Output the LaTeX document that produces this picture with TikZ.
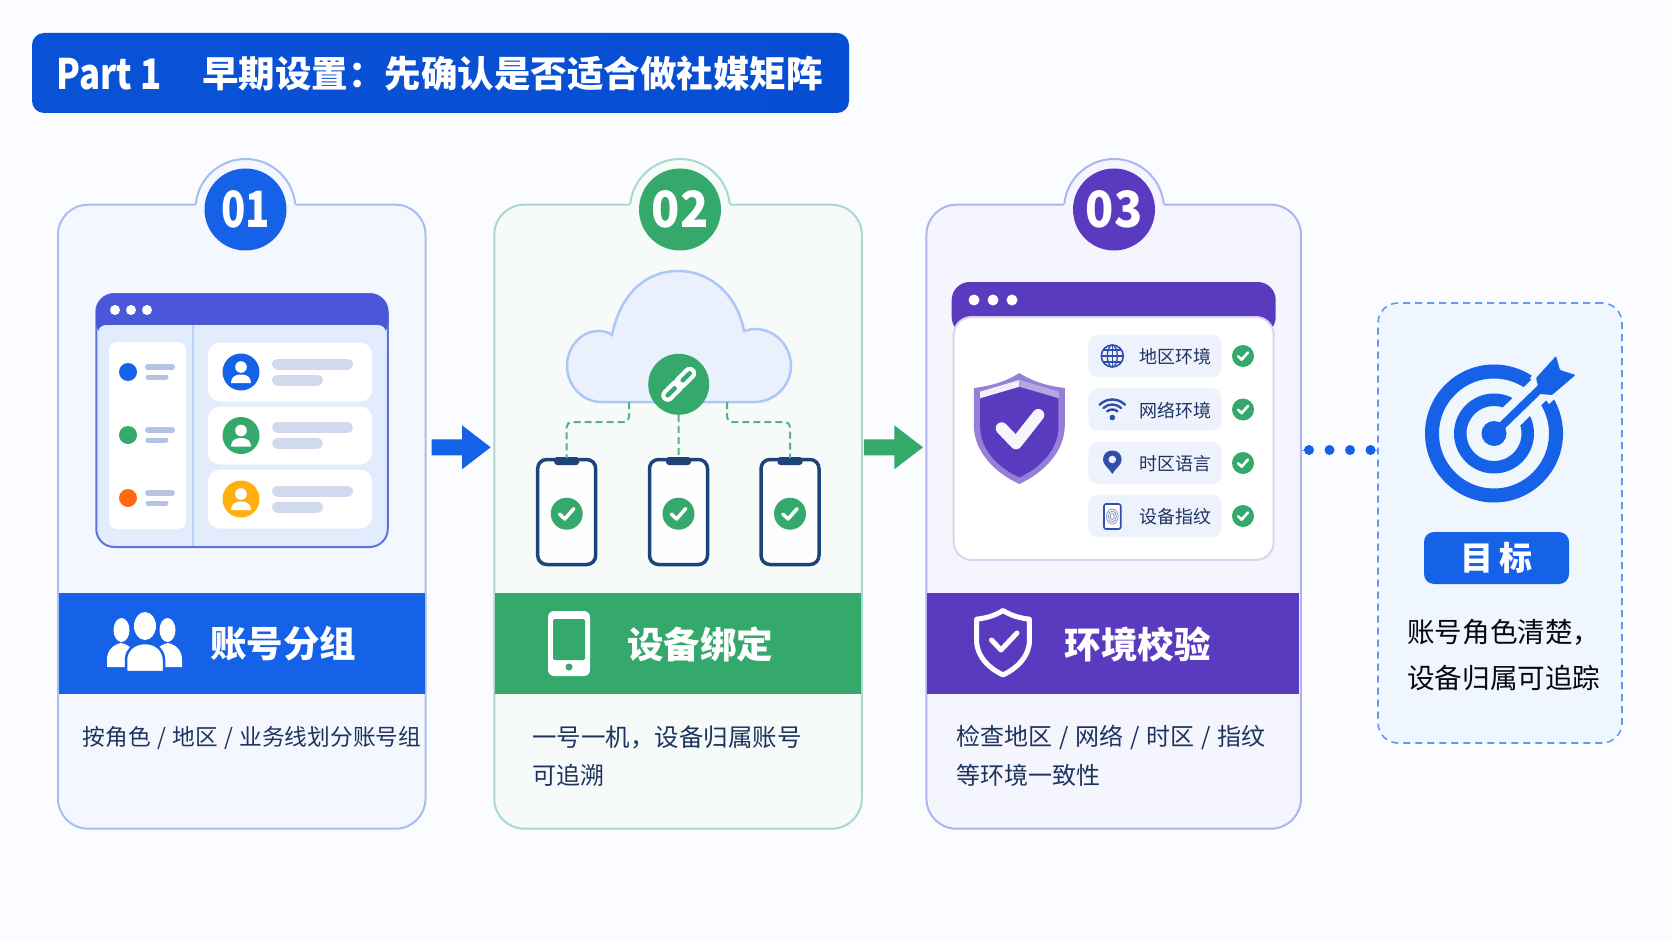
\documentclass[tikz,border=0pt]{standalone}
\usepackage{graphicx}
\usepackage{fontspec}
\setmainfont{Noto Sans CJK SC}
\usepackage{tikz}
\usetikzlibrary{shapes,arrows,positioning}

\definecolor{pagebg}{HTML}{FAFCFF}
\definecolor{cblue}{HTML}{1561E8}
\definecolor{cgreen}{HTML}{34A96B}
\definecolor{cpurple}{HTML}{5A3BC0}
\definecolor{corange}{HTML}{FF6A13}
\definecolor{cyellow}{HTML}{FFB010}
\definecolor{cnavy}{HTML}{1E4379}
\definecolor{cink}{HTML}{1E3460}
\definecolor{cbar}{HTML}{B5C3E2}
\definecolor{cbarsoft}{HTML}{D1D9EC}
\definecolor{ctarget}{HTML}{EFF6FE}
\definecolor{cpill}{HTML}{EEF2FC}
\definecolor{cicon}{HTML}{2F4FA8}
\definecolor{bannerl}{HTML}{0A52D5}
\definecolor{bannerm}{HTML}{0F60E6}
\definecolor{bannerr}{HTML}{074DD3}
\definecolor{headone}{HTML}{4A57D9}
\definecolor{edgeone}{HTML}{A7BFEF}
\definecolor{edgetwo}{HTML}{A8D9CC}
\definecolor{edgethree}{HTML}{AFB3EE}
\definecolor{fillone}{HTML}{F4F8FE}
\definecolor{filltwo}{HTML}{F6FBFA}
\definecolor{fillthree}{HTML}{F5F5FD}

\newcommand{\fsz}[1]{\fontsize{#1}{#1}\selectfont}
\newcommand{\slashgap}[1]{\hspace{#1}/\hspace{#1}}

\tikzstyle{card} = [draw, line width=2pt, rounded corners=30pt, minimum height=624pt, inner sep=0pt]
\tikzstyle{band} = [minimum height=101pt, inner sep=0pt]
\tikzstyle{badge} = [circle, minimum size=82pt, inner sep=0pt, text=white, font=\fsz{50}\bfseries]
\tikzstyle{bandtext} = [text=white, inner sep=0pt, font=\fsz{36.5}\bfseries]
\tikzstyle{desc} = [anchor=west, inner sep=0pt, font=\fsz{24}]
\tikzstyle{blockarrow} = [single arrow, anchor=tip, minimum height=59pt, single arrow head extend=14pt, single arrow tip angle=75, inner xsep=0pt, inner ysep=7.8pt]
\tikzstyle{bar} = [line width=#1, line cap=round]
\tikzstyle{okdot} = [circle, fill=cgreen, inner sep=0pt]
\tikzstyle{okline} = [white, line cap=round, line join=round]
\tikzstyle{whitebox} = [fill=white, inner sep=0pt]
\tikzstyle{envpill} = [fill=cpill, rounded corners=10pt, minimum width=133.4pt, minimum height=42.4pt, inner sep=0pt]
\tikzstyle{phone} = [draw=cnavy, fill=white!70!pagebg, line width=3.5pt, rounded corners=9pt, minimum width=58pt, minimum height=105pt, inner sep=0pt]
\tikzstyle{link} = [draw=cgreen!85!white, line width=2pt, dash pattern=on 7pt off 4pt, rounded corners=5pt]

\newcommand{\okmark}[4]{
  \node[okdot, minimum size=#3*2pt] (#1) at (#2) {};
  \draw[okline, line width=#4, shift={(#2)}, scale=#3] (-.45,.02) -- (-.12,.33) -- (.45,-.32);
}
\newcommand{\leftrow}[3]{
  \node[circle, fill=#3, minimum size=18pt, inner sep=0pt] (#1) at (128,#2) {};
  \draw[bar=6pt, cbar] (148,#2-5) -- (172,#2-5);
  \draw[bar=5pt, cbar] (148,#2+5) -- (166,#2+5);
}
\newcommand{\userrow}[4]{
  \node[whitebox, rounded corners=12pt, minimum width=164pt, minimum height=#4pt] (#1) at (290,#2) {};
  \node[circle, fill=#3, minimum size=37pt, inner sep=0pt] (#1a) at (241,#2) {};
  \fill[white] (241,#2-5) circle (5.8);
  \fill[white, shift={(241,#2)}] (-10,11) .. controls (-10,5) and (-6,2.5) .. (0,2.5) .. controls (6,2.5) and (10,5) .. (10,11) -- cycle;
  \draw[bar=11pt, cbarsoft] (277.5,#2-8) -- (347.5,#2-8);
  \draw[bar=11pt, cbarsoft] (277.5,#2+8) -- (317.5,#2+8);
}
\newcommand{\phonebox}[2]{
  \node[phone] (#1) at (#2,512) {};
  \fill[cnavy, rounded corners=3pt] (#2-12.5,457) -- (#2+12.5,457) -- (#2+12.5,465) -- (#2-12.5,465) -- cycle;
  \okmark{#1ok}{#2,513.7}{16}{3.5pt}
}
\newcommand{\envrow}[3]{
  \node[envpill] (#1) at (1155,#2) {};
  \node[inner sep=0pt, text=cink, font=\fsz{18}] (#1t) at (1175,#2+1) {#3};
  \okmark{#1ok}{1243,#2}{11}{2.6pt}
}
\newcommand{\shieldpath}{(0,-50) .. controls (-14,-41) and (-29,-37) .. (-45.5,-35) -- (-45.5,2) .. controls (-45.5,29) and (-24,50) .. (0,61) .. controls (24,50) and (45.5,29) .. (45.5,2) -- (45.5,-35) .. controls (29,-37) and (14,-41) .. (0,-50) -- cycle}

\begin{document}
\begin{tikzpicture}[x=1pt, y=-1pt, >=stealth]
    \useasboundingbox (0,0) rectangle (1672,941);
    \fill[pagebg] (0,0) rectangle (1672,941);

    % title
    \node[rounded corners=12pt, minimum width=817pt, minimum height=80pt, inner sep=0pt, left color=bannerl, middle color=bannerm, right color=bannerr] (banner) at (440.5,73) {};
    \node[anchor=west, inner sep=0pt, text=white, font=\fsz{42}\bfseries] (part) at (56.5,74) {\scalebox{0.83}[1]{Part 1}};
    \node[anchor=west, inner sep=0pt, text=white, font=\fsz{36.5}\bfseries] (title) at (202,74) {早期设置：先确认是否适合做社媒矩阵};

    % cards
    \node[card, draw=edgeone, fill=fillone, minimum width=367.5pt] (card1) at (241.75,516.7) {};
    \node[card, draw=edgetwo, fill=filltwo, minimum width=367.5pt] (card2) at (678,516.7) {};
    \node[card, draw=edgethree, fill=fillthree, minimum width=374.5pt] (card3) at (1113.7,516.7) {};

    \fill[fillone] (245.5,209) circle (50);
    \draw[edgeone, line width=2pt] (245.5,209) ++(185.7:50) arc (185.7:354.3:50);
    \fill[filltwo] (680,209) circle (50);
    \draw[edgetwo, line width=2pt] (680,209) ++(185.7:50) arc (185.7:354.3:50);
    \fill[fillthree] (1114,209) circle (50);
    \draw[edgethree, line width=2pt] (1114,209) ++(185.7:50) arc (185.7:354.3:50);

    \node[badge, fill=cblue] (badge1) at (245.5,209.5) {\scalebox{0.8}[1]{01}};
    \node[badge, fill=cgreen] (badge2) at (680,209.5) {\scalebox{0.93}[1]{02}};
    \node[badge, fill=cpurple] (badge3) at (1114,209.5) {\scalebox{0.93}[1]{03}};

    \node[band, fill=cblue, minimum width=366pt] (band1) at (242,643.5) {};
    \node[band, fill=cgreen, minimum width=366pt] (band2) at (678,643.5) {};
    \node[band, fill=cpurple, minimum width=372.5pt] (band3) at (1113,643.5) {};

    \node[bandtext] (name1) at (283,644) {账号分组};
    \node[bandtext] (name2) at (700,644) {设备绑定};
    \node[bandtext] (name3) at (1137.5,644) {环境校验};

    \node[desc, text=cink, font=\fsz{22.7}] (text1) at (82.5,737.5) {按角色\slashgap{6.4pt}地区\slashgap{6.4pt}业务线划分账号组};
    \node[desc, text=cink, font=\fsz{24.5}] (text2) at (532,737) {一号一机，设备归属账号};
    \node[desc, text=cink] (text2b) at (532,775) {可追溯};
    \node[desc, text=cink] (text3) at (956,737) {检查地区\slashgap{6.9pt}网络\slashgap{6.9pt}时区\slashgap{6.9pt}指纹};
    \node[desc, text=cink] (text3b) at (956,775) {等环境一致性};

    % band icons
    \fill[white] (107,667) -- (107,660) .. controls (107,651) and (112,645) .. (121,643) .. controls (130,645) and (136,651) .. (136,660) -- (136,667) -- cycle;
    \fill[white] (182,667) -- (182,660) .. controls (182,651) and (177,645) .. (168,643) .. controls (159,645) and (153,651) .. (153,660) -- (153,667) -- cycle;
    \fill[white] (121.5,630) ellipse (8 and 12);
    \fill[white] (167.5,630) ellipse (8 and 12);
    \draw[white, fill=white, postaction={draw=cblue, line width=2.5pt}] (126,672) -- (126,660) .. controls (126,650) and (134,643) .. (145,643) .. controls (156,643) and (164,650) .. (164,660) -- (164,672) -- cycle;
    \fill[cblue] (131,615) rectangle (159,641);
    \fill[white] (145,626) ellipse (11 and 14);

    \node[whitebox, rounded corners=6pt, minimum width=42pt, minimum height=65pt] (phoneicon) at (569,643.5) {};
    \node[fill=cgreen, rounded corners=1.5pt, minimum width=32pt, minimum height=41pt, inner sep=0pt] (phonescreen) at (569,639.5) {};
    \fill[cgreen] (569,667) circle (3.5);

    \draw[white, line width=5pt, line join=round, shift={(1003,639.5)}, scale=.58] \shieldpath;
    \draw[white, line width=5pt, line cap=round, line join=round] (991.5,640) -- (1001,650) -- (1017,633);

    % card 1 window
    \node[draw=cblue!55!cpurple!80!white, line width=2pt, fill=cblue!12!white, rounded corners=18pt, minimum width=291.5pt, minimum height=253pt, inner sep=0pt] (window1) at (242,420.5) {};
    \fill[headone, rounded corners=18pt] (96,340) -- (96,293.5) -- (388,293.5) -- (388,340) -- cycle;
    \fill[cblue!12!white, rounded corners=8pt] (98,325) rectangle (386,360);
    \fill[white] (115,310) circle (5);
    \fill[white] (131,310) circle (5);
    \fill[white] (147,310) circle (5);
    \draw[cblue!30!white, line width=2pt] (193,325) -- (193,546);
    \node[whitebox, rounded corners=8pt, minimum width=77pt, minimum height=187pt] (sidepanel) at (147.5,435.5) {};
    \leftrow{side1}{372}{cblue}
    \leftrow{side2}{435}{cgreen}
    \leftrow{side3}{498}{corange}
    \userrow{user1}{372}{cblue}{59}
    \userrow{user2}{435.5}{cgreen}{58}
    \userrow{user3}{499}{cyellow}{59}

    % cloud
    \draw[cblue!35!white, fill=cblue!9!white, line width=2.5pt] (601,402) .. controls (582,402) and (567,385) .. (567,366) .. controls (567,346) and (582,331) .. (598,331) .. controls (603,331) and (608,332) .. (612,335) .. controls (620,295) and (645,271) .. (678,271) .. controls (712,271) and (738,297) .. (744,331) .. controls (748,330) and (751,329) .. (755,329) .. controls (775,329) and (791,346) .. (791,366) .. controls (791,385) and (775,402) .. (755,402) -- cycle;

    \phonebox{phone1}{566.7}
    \phonebox{phone2}{678.5}
    \phonebox{phone3}{790}

    \coordinate (cloudl) at (629,402);
    \coordinate (cloudr) at (727,402);
    \node[circle, fill=cgreen, minimum size=61pt, inner sep=0pt] (hub) at (678.7,384.3) {};
    \draw[link] (cloudl) -- (629,422) -- (566.7,422) -- (phone1.north);
    \draw[link] (hub.south) -- (phone2.north);
    \draw[link] (cloudr) -- (727,422) -- (790,422) -- (phone3.north);
    \draw[white, line width=13pt, line cap=round] (667.7,395.3) -- (676.7,386.3);
    \draw[cgreen, line width=4.5pt, line cap=round] (667.7,395.3) -- (674.7,388.3);
    \draw[white, line width=13pt, line cap=round] (680.7,382.3) -- (689.7,373.3);
    \draw[cgreen, line width=4.5pt, line cap=round] (682.7,380.3) -- (689.7,373.3);

    % card 3 window
    \fill[cpurple, rounded corners=18pt] (951.7,335) -- (951.7,282) -- (1275.7,282) -- (1275.7,335) -- cycle;
    \node[draw=cpurple!22!white, line width=2pt, fill=white, rounded corners=18pt, minimum width=320pt, minimum height=243pt, inner sep=0pt] (window3) at (1113.7,438.5) {};
    \fill[white] (974,300) circle (5.5);
    \fill[white] (993,300) circle (5.5);
    \fill[white] (1012,300) circle (5.5);

    \fill[cpurple!65!white, shift={(1019.3,423)}] \shieldpath;
    \fill[cpurple, shift={(1019.3,425)}, scale=.86] \shieldpath;
    \fill[cpurple!8!white] (980,391.7) -- (1019.3,380) -- (1019.3,386.7) -- (980,398.3) -- cycle;
    \fill[cpurple!45!white] (1019.3,380) -- (1059,391.7) -- (1059,398.3) -- (1019.3,386.7) -- cycle;
    \draw[white!95!cpurple, line width=12pt, line cap=round, line join=round] (1001.7,428.3) -- (1016,443.3) -- (1038.3,415);

    \envrow{env1}{356}{地区环境}
    \envrow{env2}{409.5}{网络环境}
    \envrow{env3}{463}{时区语言}
    \envrow{env4}{516}{设备指纹}

    \draw[cicon, line width=1.6pt] (1112.3,356) circle (11);
    \draw[cicon, line width=1.3pt] (1112.3,356) ellipse (5 and 11);
    \draw[cicon, line width=1.3pt] (1112.3,345) -- (1112.3,367);
    \draw[cicon, line width=1.3pt] (1101.3,356) -- (1123.3,356);
    \draw[cicon, line width=1.3pt] (1103,350) -- (1121.6,350);
    \draw[cicon, line width=1.3pt] (1103,362) -- (1121.6,362);

    \fill[cicon] (1112.3,417.5) circle (2.8);
    \draw[cicon, line width=2.4pt, line cap=round] (1112.3,417.5) ++(230:8) arc (230:310:8);
    \draw[cicon, line width=2.4pt, line cap=round] (1112.3,417.5) ++(227:13) arc (227:313:13);
    \draw[cicon, line width=2.4pt, line cap=round] (1112.3,417.5) ++(225:18) arc (225:315:18);

    \fill[cicon] (1112.3,474) .. controls (1108,467) and (1103,465) .. (1103,459.5) .. controls (1103,454) and (1107,450.5) .. (1112.3,450.5) .. controls (1117.6,450.5) and (1121.6,454) .. (1121.6,459.5) .. controls (1121.6,465) and (1116.6,467) .. (1112.3,474) -- cycle;
    \fill[cpill] (1112.3,459.5) circle (3.8);

    \draw[cicon, line width=1.6pt, fill=white, rounded corners=2pt] (1104,504) rectangle (1120.7,529);
    \draw[cicon!60!white, line width=.8pt] (1112.3,516.5) ellipse (2 and 3);
    \draw[cicon!60!white, line width=.8pt] (1112.3,516.5) ellipse (4 and 5.5);
    \draw[cicon!60!white, line width=.8pt] (1112.3,516.5) ellipse (5.8 and 7.5);

    % arrows between cards
    \node[blockarrow, fill=cblue] (arrow1) at (491,447.3) {};
    \node[blockarrow, fill=cgreen] (arrow2) at (923.3,447.3) {};

    % target
    \node[draw=cblue!65!white, fill=ctarget, line width=1.6pt, dash pattern=on 7pt off 5pt, rounded corners=20pt, minimum width=244pt, minimum height=440pt, inner sep=0pt] (target) at (1500,523) {};
    \coordinate (dotsa) at (1309,450);
    \coordinate (dotsb) at (1371,450);
    \draw[cblue!70!white, line width=.8pt] (card3.east |- dotsa) -- (dotsa);
    \draw[cblue!70!white, line width=.8pt] (dotsb) -- (target.west |- dotsb);
    \draw[cblue, line width=10pt, line cap=round, dash pattern=on 0pt off 20.5pt] (dotsa) -- (dotsb);

    \coordinate (goal) at (1494,433.5);
    \draw[cblue, line width=14pt] (goal) circle (62);
    \draw[cblue, line width=12.5pt] (goal) circle (33.75);
    \draw[ctarget, line width=25pt] (goal) -- (1545,384);
    \fill[ctarget] (1530,378) -- (1552,355) -- (1580,375) -- (1549,404) -- cycle;
    \fill[cblue] (goal) circle (12.5);
    \draw[cblue, line width=8pt] (goal) -- (1545,384);
    \fill[cblue, rounded corners=1pt] (1536,378) -- (1556,356) -- (1560,370) -- (1575.5,375) -- (1552,395) -- (1540,394) -- cycle;

    \node[fill=cblue, rounded corners=10pt, minimum width=145pt, minimum height=52pt, inner sep=0pt, text=white, font=\fsz{33}\bfseries] (goaltag) at (1496.5,558) {目\hspace{6pt}标};
    \node[anchor=west, inner sep=0pt, text=black!85!cink, font=\fsz{27.6}] (goal1) at (1407,632) {账号角色清楚，};
    \node[anchor=west, inner sep=0pt, text=black!85!cink, font=\fsz{27.6}] (goal2) at (1407,678) {设备归属可追踪};
\end{tikzpicture}
\end{document}
